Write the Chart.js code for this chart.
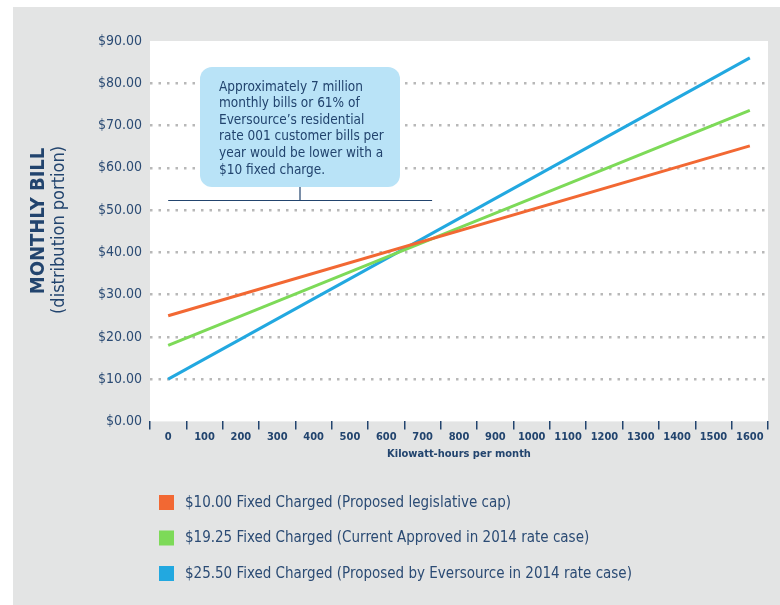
<!DOCTYPE html>
<html>
<head>
  <title>Monthly Bill by Usage</title>
  <script src="https://cdn.jsdelivr.net/npm/chart.js"></script>
  <style>
    html, body { margin: 0; padding: 0; background: #fff; }
    #wrap { width: 780px; height: 605px; }
  </style>
</head>
<body>
  <div id="wrap"><canvas id="billChart" width="780" height="605"></canvas></div>
  <script>
    // kWh per month (x categories)
    const kwhLabels = ['0', '100', '200', '300', '400', '500', '600', '700', '800',
      '900', '1000', '1100', '1200', '1300', '1400', '1500', '1600'];

    // monthly bill, read at the two ends of each straight line (gaps are spanned)
    const fixed10 = [25.0, null, null, null, null, null, null, null, null,
      null, null, null, null, null, null, null, 65.2];
    const fixed1925 = [18.0, null, null, null, null, null, null, null, null,
      null, null, null, null, null, null, null, 73.6];
    const fixed2550 = [10.0, null, null, null, null, null, null, null, null,
      null, null, null, null, null, null, null, 86.0];

    const seriesNames = [
      '$10.00 Fixed Charged (Proposed legislative cap)',
      '$19.25 Fixed Charged (Current Approved in 2014 rate case)',
      '$25.50 Fixed Charged (Proposed by Eversource in 2014 rate case)'
    ];

    const noteLines = [
      'Approximately 7 million',
      'monthly bills or 61% of',
      'Eversource\u2019s residential',
      'rate 001 customer bills per',
      'year would be lower with a',
      '$10 fixed charge.'
    ];

    const NARROW = "'Liberation Sans Narrow', 'DejaVu Sans Condensed', sans-serif";
    const NAVY = '#22446e';
    const TEXT = '#2b4b74';

    // gray panel + white plot area
    const backdrop = {
      id: 'backdrop',
      beforeDraw(chart) {
        const { ctx, chartArea: a } = chart;
        ctx.save();
        ctx.fillStyle = '#ffffff';
        ctx.fillRect(0, 0, chart.width, chart.height);
        ctx.fillStyle = '#e3e4e4';
        ctx.fillRect(13, 7, chart.width - 13, chart.height - 7);
        ctx.fillStyle = '#ffffff';
        ctx.fillRect(a.left, a.top, a.right - a.left, a.bottom - a.top);
        ctx.restore();
      }
    };

    // two-weight rotated y title
    const yTitle = {
      id: 'yTitle',
      afterDraw(chart) {
        const { ctx } = chart;
        ctx.save();
        ctx.fillStyle = NAVY;
        ctx.textAlign = 'center';
        ctx.textBaseline = 'middle';
        ctx.translate(39, 221);
        ctx.rotate(-Math.PI / 2);
        ctx.font = 'bold 20px ' + NARROW;
        ctx.fillText('MONTHLY BILL', 0, 0);
        ctx.translate(-9, 0);
        ctx.font = '18px ' + NARROW;
        ctx.fillText('(distribution portion)', 0, 20);
        ctx.restore();
      }
    };

    // callout box and bracket
    const callout = {
      id: 'callout',
      afterDatasetsDraw(chart) {
        const { ctx } = chart;
        const x = chart.scales.x, y = chart.scales.y;
        const bx = 200, by = 67, bw = 200, bh = 120, r = 12;
        ctx.save();
        ctx.fillStyle = '#b9e3f7';
        ctx.beginPath();
        ctx.moveTo(bx + r, by);
        ctx.arcTo(bx + bw, by, bx + bw, by + bh, r);
        ctx.arcTo(bx + bw, by + bh, bx, by + bh, r);
        ctx.arcTo(bx, by + bh, bx, by, r);
        ctx.arcTo(bx, by, bx + bw, by, r);
        ctx.closePath();
        ctx.fill();

        ctx.fillStyle = NAVY;
        ctx.font = '13.5px ' + NARROW;
        ctx.textAlign = 'left';
        ctx.textBaseline = 'middle';
        noteLines.forEach((t, i) => ctx.fillText(t, 219, 87 + i * 16.6));

        const yb = Math.round(y.getPixelForValue(52.3)) + 0.5;
        ctx.strokeStyle = NAVY;
        ctx.lineWidth = 1.2;
        ctx.beginPath();
        ctx.moveTo(x.getPixelForValue(0), yb);
        ctx.lineTo(x.getPixelForValue(7.26), yb);
        ctx.moveTo(300, by + bh);
        ctx.lineTo(300, yb);
        ctx.stroke();
        ctx.restore();
      }
    };

    // stacked legend under the axis
    const stackedLegend = {
      id: 'stackedLegend',
      afterDraw(chart) {
        const { ctx } = chart;
        ctx.save();
        ctx.font = '15px ' + NARROW;
        ctx.textAlign = 'left';
        ctx.textBaseline = 'middle';
        chart.data.datasets.forEach((ds, i) => {
          const cy = 503 + i * 35.5;
          ctx.fillStyle = ds.borderColor;
          ctx.fillRect(159, cy - 8, 15, 15);
          ctx.fillStyle = TEXT;
          ctx.fillText(ds.label, 185, cy);
        });
        ctx.restore();
      }
    };

    new Chart(document.getElementById('billChart'), {
      type: 'line',
      data: {
        labels: kwhLabels,
        datasets: [
          { label: seriesNames[0], data: fixed10, borderColor: '#f26833' },
          { label: seriesNames[1], data: fixed1925, borderColor: '#7dda58' },
          { label: seriesNames[2], data: fixed2550, borderColor: '#22a8e0' }
        ]
      },
      options: {
        responsive: false,
        animation: false,
        spanGaps: true,
        elements: {
          line: { borderWidth: 3, tension: 0 },
          point: { radius: 0, hoverRadius: 0 }
        },
        layout: { padding: { left: 0, right: 12, top: 41, bottom: 133.6 } },
        plugins: {
          legend: { display: false },
          tooltip: { enabled: false }
        },
        scales: {
          x: {
            offset: true,
            border: { display: false },
            grid: {
              offset: true,
              drawOnChartArea: false,
              drawTicks: true,
              tickLength: 8,
              color: NAVY,
              lineWidth: 1.5
            },
            ticks: {
              autoSkip: false,
              maxRotation: 0,
              padding: 1,
              color: NAVY,
              font: { family: NARROW, size: 11, weight: 'bold' }
            },
            title: {
              display: true,
              text: 'Kilowatt-hours per month',
              color: NAVY,
              font: { family: NARROW, size: 11, weight: 'bold' },
              padding: { top: 4, bottom: 10.5 }
            },
            afterFit(s) { s.height = 50; }
          },
          y: {
            min: 0,
            max: 90,
            border: { display: false, dash: [2.5, 6] },
            grid: {
              drawTicks: false,
              lineWidth: 2.5,
              color: (c) => (c.tick && (c.tick.value === 0 || c.tick.value === 90)) ? 'rgba(0,0,0,0)' : '#b8b8b8'
            },
            ticks: {
              stepSize: 10,
              padding: 8,
              color: TEXT,
              font: { family: NARROW, size: 14 },
              callback: (v) => '$' + Number(v).toFixed(2)
            },
            afterFit(s) { s.width = 150; }
          }
        }
      },
      plugins: [backdrop, yTitle, callout, stackedLegend]
    });
  </script>
</body>
</html>
